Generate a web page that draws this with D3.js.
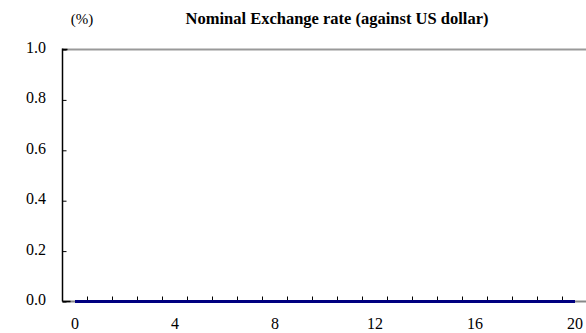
<!DOCTYPE html>
<html><head><meta charset="utf-8">
<script src="https://cdn.jsdelivr.net/npm/d3@7"></script>
<style>html,body{margin:0;padding:0;background:#fff;overflow:hidden} text{font-family:"Liberation Serif","Times New Roman",serif}</style>
</head><body>
<svg id="c" width="586" height="333"></svg>
<script>
const categories = d3.range(0, 21).map(String);
const values = [0,0,0,0,0,0,0,0,0,0,0,0,0,0,0,0,0,0,0,0,0];
const yTicks = [0, 0.2, 0.4, 0.6, 0.8, 1.0];
const xLabels = ["0","4","8","12","16","20"];
const title = "Nominal Exchange rate (against US dollar)";
const unit = "(%)";

const svg = d3.select("#c");
const pL = 62.5, pR = 587.5, pT = 49.5, pB = 301.5;
const x = d3.scaleBand().domain(categories).range([pL, pR]).padding(0);
const y = d3.scaleLinear().domain([0, 1]).range([pB, pT]);

// top border
svg.append("line").attr("x1", pL).attr("x2", 586).attr("y1", pT).attr("y2", pT)
  .attr("stroke", "#999").attr("stroke-width", 2);
// x axis line
svg.append("line").attr("x1", pL).attr("x2", 586).attr("y1", pB).attr("y2", pB)
  .attr("stroke", "#888").attr("stroke-width", 2);
svg.append("line").attr("x1", pL).attr("x2", pL + 8).attr("y1", pB).attr("y2", pB)
  .attr("stroke", "#000").attr("stroke-width", 1.5);

// y axis
const yAxis = d3.axisRight(y).tickValues(yTicks).tickSize(4).tickFormat("");
const gy = svg.append("g").attr("transform", `translate(${pL},0)`).call(yAxis);
gy.select(".domain").remove();
gy.selectAll(".tick line").attr("stroke", "#000");
svg.append("line").attr("x1", pL).attr("x2", pL).attr("y1", pT - 1).attr("y2", pB)
  .attr("stroke", "#000").attr("stroke-width", 1.5);
svg.append("line").attr("x1", pL).attr("x2", pL + 5).attr("y1", pT).attr("y2", pT)
  .attr("stroke", "#000").attr("stroke-width", 1.5);

svg.append("g").selectAll("text").data(yTicks).join("text")
  .attr("x", 46).attr("y", d => y(d)).attr("dy", "0.22em")
  .attr("text-anchor", "end").attr("font-size", 16)
  .text(d => d.toFixed(1));

// x ticks at band boundaries
const boundaries = categories.slice(1).map(c => x(c));
svg.append("g").selectAll("line").data(boundaries).join("line")
  .attr("x1", d => d).attr("x2", d => d).attr("y1", pB).attr("y2", pB - 5)
  .attr("stroke", "#000").attr("stroke-width", 1);

// series line
const line = d3.line().x((d, i) => x(categories[i]) + x.bandwidth() / 2).y(d => y(d));
svg.append("path").datum(values).attr("d", line)
  .attr("fill", "none").attr("stroke", "#000080").attr("stroke-width", 3);

// x labels
svg.append("g").selectAll("text").data(xLabels).join("text")
  .attr("x", d => x(d) + x.bandwidth() / 2).attr("y", 323).attr("dy", "0.35em")
  .attr("text-anchor", "middle").attr("font-size", 16)
  .text(d => d);

// title & unit
svg.append("text").attr("x", 337).attr("y", 23.5)
  .attr("text-anchor", "middle").attr("font-size", 16.5)
  .attr("font-weight", "bold").text(title);
svg.append("text").attr("x", 82).attr("y", 23.5)
  .attr("text-anchor", "middle").attr("font-size", 15)
  .text(unit);
</script>
</body></html>
